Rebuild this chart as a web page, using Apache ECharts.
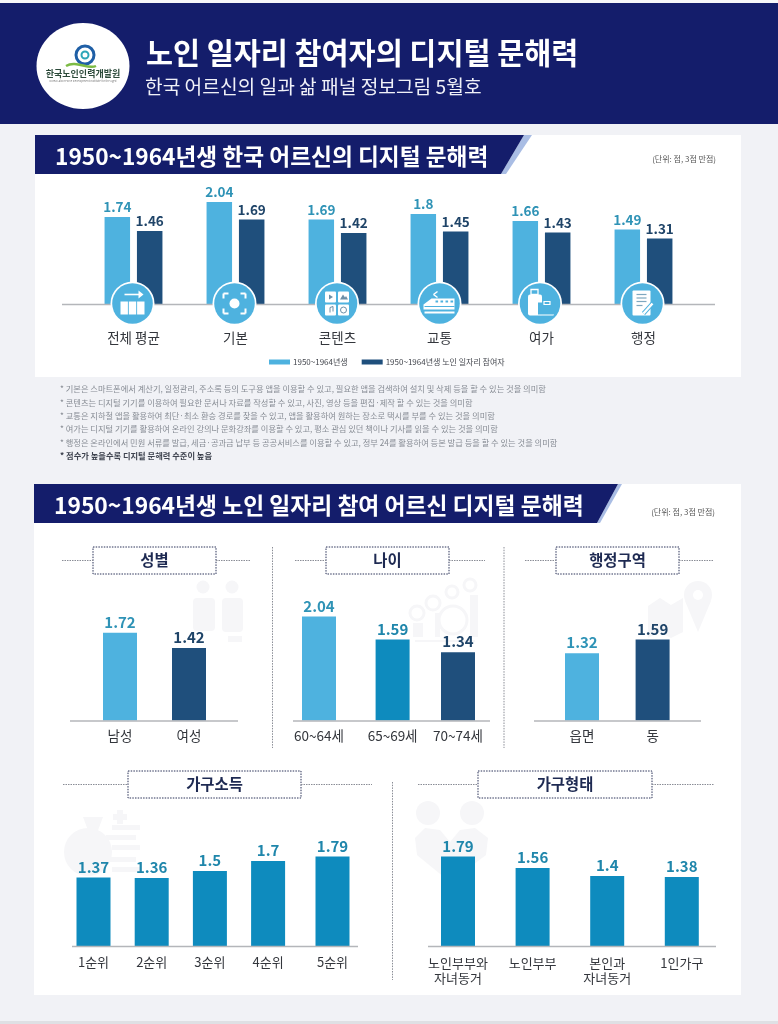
<!DOCTYPE html>
<html><head><meta charset="utf-8">
<style>html,body{margin:0;padding:0;background:#f1f2f6}#c{width:778px;height:1024px}</style>
<script src="https://cdn.jsdelivr.net/npm/echarts@6/dist/echarts.min.js"></script>
</head><body><div id="c"></div>
<script>
// ---- data ----
const overallCategories = ['전체 평균','기본','콘텐츠','교통','여가','행정'];
const allSeniors = [1.74,2.04,1.69,1.8,1.66,1.49];
const jobParticipants = [1.46,1.69,1.42,1.45,1.43,1.31];
const overallSeriesNames = ['1950~1964년생','1950~1964년생 노인 일자리 참여자'];
const genderCategories = ['남성','여성'];
const genderValues = [1.72,1.42];
const ageCategories = ['60~64세','65~69세','70~74세'];
const ageValues = [2.04,1.59,1.34];
const regionCategories = ['읍면','동'];
const regionValues = [1.32,1.59];
const incomeCategories = ['1순위','2순위','3순위','4순위','5순위'];
const incomeValues = [1.37,1.36,1.5,1.7,1.79];
const householdCategories = ['노인부부와\n자녀동거','노인부부','본인과\n자녀동거','1인가구'];
const householdValues = [1.79,1.56,1.4,1.38];
const notes = [
 '* 기본은 스마트폰에서 계산기, 일정관리, 주소록 등의 도구용 앱을 이용할 수 있고, 필요한 앱을 검색하여 설치 및 삭제 등을 할 수 있는 것을 의미함',
 '* 콘텐츠는 디지털 기기를 이용하여 필요한 문서나 자료를 작성할 수 있고, 사진, 영상 등을 편집·제작 할 수 있는 것을 의미함',
 '* 교통은 지하철 앱을 활용하여 최단·최소 환승 경로를 찾을 수 있고, 앱을 활용하여 원하는 장소로 택시를 부를 수 있는 것을 의미함',
 '* 여가는 디지털 기기를 활용하여 온라인 강의나 문화강좌를 이용할 수 있고, 평소 관심 있던 책이나 기사를 읽을 수 있는 것을 의미함',
 '* 행정은 온라인에서 민원 서류를 발급, 세금·공과금 납부 등 공공서비스를 이용할 수 있고, 정부 24를 활용하여 등본 발급 등을 할 수 있는 것을 의미함'];
const notesBold = '* 점수가 높을수록 디지털 문해력 수준이 높음';

// ---- style ----
const FONT = '"Noto Sans CJK KR","Noto Sans",sans-serif';
const NAVY='#141d6b', LIGHT='#4eb2df', DARK='#1f4f7c', TEAL='#0e8bbe', WM='#f6f6f8';
const LBL_L='#2f93b6', LBL_D='#1f4468', LBL_T='#1f86ab';
const g=[];  // graphic elements
const rect=(x,y,w,h,fill,z=1,r=0)=>g.push({type:'rect',shape:{x,y,width:w,height:h,r},style:{fill},z,silent:true});
const circ=(cx,cy,r,fill,z=1,extra={})=>g.push({type:'circle',shape:{cx,cy,r},style:Object.assign({fill},extra),z,silent:true});
const poly=(points,fill,z=1)=>g.push({type:'polygon',shape:{points},style:{fill},z,silent:true});
const line=(x1,y1,x2,y2,stroke,lineWidth=1,dash=null,z=1)=>g.push({type:'line',shape:{x1,y1,x2,y2},style:{stroke,lineWidth,lineDash:dash},z,silent:true});
const text=(x,y,t,size,fill,weight='normal',align='left',z=3)=>g.push({type:'text',x,y,style:{text:t,font:`${weight} ${size}px ${FONT}`,fill,align,verticalAlign:'middle'},z,silent:true});

// page blocks
rect(0,3,778,121,NAVY,-2);
rect(0,0,778,3,'#f7f7f9',-2);
rect(35,135,706,242,'#ffffff',-2);
rect(34,484,707,511,'#ffffff',-2);
rect(0,1021,778,3,'#dfe0e4',-2);

// logo
g.push({type:'ellipse',shape:{cx:83,cy:66,rx:46.5,ry:43},style:{fill:'#fff'},z:1,silent:true});
circ(85,55,9,'none',2,{stroke:'#1f5fa6',lineWidth:3});
circ(85,55,3.5,'none',2,{stroke:'#2ca6b8',lineWidth:2});
g.push({type:'bezierCurve',shape:{x1:66,y1:66,x2:96,y2:66,cpx1:76,cpy1:60,cpx2:88,cpy2:70},style:{stroke:'#7dbb45',lineWidth:2.5,fill:'none'},z:2,silent:true});
text(83,74,'한국노인인력개발원',9,'#2c4a3a','bold','center');
text(83,81,'Korea Labor Force Development Institute for the Aged',2.7,'#777','normal','center');
// header text
text(146,52.5,'노인 일자리 참여자의 디지털 문해력',29.4,'#fff','bold');
text(145,86.5,'한국 어르신의 일과 삶 패널 정보그림 5월호',19.2,'#f0f1f8','normal');

// section ribbons
function ribbon(x0,y0,y1,xTop,xBot,xStripeTop,xStripeBot){
  poly([[xTop,y0],[xStripeTop,y0],[xStripeBot,y1],[xBot,y1]],'#a9bde4',1);
  poly([[x0,y0],[xTop,y0],[xBot,y1],[x0,y1]],NAVY,1);
}
ribbon(35,135,174,524,501,532,506);
text(55,156.5,'1950~1964년생 한국 어르신의 디지털 문해력',22.7,'#fff','bold');
text(716,159,'(단위: 점, 3점 만점)',8,'#555','normal','right');
ribbon(34,484,523,618,597,622,600);
text(54,505,'1950~1964년생 노인 일자리 참여 어르신 디지털 문해력',22.8,'#fff','bold');
text(715,512,'(단위: 점, 3점 만점)',8,'#555','normal','right');

// notes
notes.forEach((n,i)=>text(60,389+i*13.4,n,8.25,'#878c94','normal'));
text(60,456,notesBold,8.25,'#3f4450','bold');

// sub-heading boxes
function subHead(t,bx0,bx1,by0,by1,lx0,lx1){
  const my=(by0+by1)/2;
  g.push({type:'rect',shape:{x:bx0,y:by0,width:bx1-bx0,height:by1-by0},style:{fill:'#fff',stroke:'#2b3358',lineWidth:1,lineDash:[1.5,1.2]},z:1,silent:true});
  line(lx0,my,bx0,my,'#8a8d96',1,[1.5,1]);
  line(bx1,my,lx1,my,'#8a8d96',1,[1.5,1]);
  text((bx0+bx1)/2,my,t,15.4,'#1e2a52','bold','center');
}
subHead('성별',93,216,547,574,62,250);
subHead('나이',326,449,547,574,295,485);
subHead('행정구역',556,679,547,574,525,713);
subHead('가구소득',128,301,771,798,63,372);
subHead('가구형태',478,652,771,798,418,714);
line(272.5,547,272.5,748,'#8a8d96',1,[1.5,1.2]);
line(504,547,504,748,'#8a8d96',1,[1.5,1.2]);
line(392.5,782,392.5,980,'#8a8d96',1,[1.5,1.2]);

// baselines
const BASE='#b4b6ba';
[[62,715,304.5],[70,238,721],[293,490,721],[534,701,721],[72,358,946.5],[428,716,946.5]].forEach(b=>line(b[0],b[2],b[1],b[2],BASE,1.6,null,5));

// watermark pictograms
circ(203,587,6.5,WM);rect(193,598,22,33,WM,1,4);
circ(232,587,6.5,WM);rect(222,598,21,34,WM,1,4);rect(228,636,14,6,WM);
[[470,585,6],[452,592,6],[433,603,7],[417,613,7]].forEach(c=>circ(c[0],c[1],c[2],'none',1,{stroke:WM,lineWidth:3}));
circ(453,620,14,'none',1,{stroke:WM,lineWidth:3});
rect(413,623,10,14,WM);rect(435,613,5,24,WM);rect(470,595,8,42,WM);rect(415,640,60,2,WM);
poly([[648,606],[660,598],[671,605],[683,598],[683,632],[671,638],[660,632],[648,638]],WM);
circ(698,595,14,WM);poly([[685,601],[711,601],[698,632]],WM);circ(698,595,5,'#fff');
circ(88,852,24,WM);poly([[83,817],[103,817],[97,833],[89,833]],WM);
rect(117,810,6,14,WM);rect(113,814,14,6,WM);
[825,835,845,857,867].forEach((y,i)=>rect(i%2?106:112,y,i%2?30:28,5,WM));
circ(428,813,12,WM);circ(472,813,12,WM);
poly([[415,838],[425,828],[440,830],[450,842],[460,830],[475,828],[488,838],[486,855],[450,882],[417,855]],WM);

// round icons
const IC=10;
function iconBase(cx,cy){circ(cx,cy,22,'#fff',IC-1);circ(cx,cy,20.3,LIGHT,IC);}
const W='#ffffff', Z=IC+1;
const wr=(x,y,w,h,r=0,f=W)=>rect(x,y,w,h,f,Z,r);
function iconAverage(cx,cy){iconBase(cx,cy);
  line(cx-8,cy-9,cx+9,cy-9,W,1.6,null,Z);poly([[cx+11,cy-9],[cx+6,cy-13],[cx+6,cy-5]],W,Z);
  wr(cx-12,cy-2,7.4,13);wr(cx-3.7,cy-2,7.4,13);wr(cx+4.6,cy-2,7.4,13);}
function iconBasic(cx,cy){iconBase(cx,cy);
  circ(cx,cy,5,W,Z);
  [[-1,-1],[1,-1],[-1,1],[1,1]].forEach(s=>{const x=cx+s[0]*11,y=cy+s[1]*10;
    line(x,y,x-s[0]*5,y,W,2,null,Z);line(x,y,x,y-s[1]*5,W,2,null,Z);});}
function iconContent(cx,cy){iconBase(cx,cy);
  [[-12,-12],[1,-12],[-12,1],[1,1]].forEach(o=>wr(cx+o[0],cy+o[1],11,11,1));
  const d='#6c8fa8';
  poly([[cx-8,cy-9],[cx-8,cy-4],[cx-4,cy-6.5]],d,Z+1);
  poly([[cx+3,cy-4],[cx+6,cy-9],[cx+8,cy-6],[cx+9,cy-7.5],[cx+11,cy-4]],d,Z+1);
  line(cx-7,cy+4,cx-7,cy+9,d,1,null,Z+1);line(cx-4,cy+3,cx-4,cy+8,d,1,null,Z+1);line(cx-7,cy+4,cx-4,cy+3,d,1,null,Z+1);
  circ(cx+6.5,cy+6.5,3,'none',Z+1,{stroke:d,lineWidth:1});}
function iconTrain(cx,cy){iconBase(cx,cy);
  line(cx-2,cy-12,cx-6,cy-9,W,1.5,null,Z);line(cx-6,cy-9,cx-2,cy-6,W,1.5,null,Z);
  poly([[cx-16,cy+1],[cx-8,cy-5],[cx+15,cy-5],[cx+15,cy+6],[cx-16,cy+6]],W,Z);
  [-4,1,6,11].forEach(o=>rect(cx+o,cy-3,2.6,2,LIGHT,Z+1));
  line(cx-15,cy+3,cx+15,cy+3,LIGHT,1,null,Z+1);
  wr(cx-15,cy+8,30,2);}
function iconLeisure(cx,cy){iconBase(cx,cy);
  g.push({type:'rect',shape:{x:cx-9,y:cy-14,width:7,height:5},style:{fill:'none',stroke:W,lineWidth:1.3},z:Z,silent:true});
  wr(cx-12,cy-9,14,21,2);
  rect(cx-2,cy-1,16,12,LIGHT,Z+1);wr(cx,cy+1,14,11,1);
  g.push({type:'rect',shape:{x:cx+4,y:cy-2,width:6,height:3},style:{fill:'none',stroke:W,lineWidth:1.2},z:Z+1,silent:true});
  line(cx,cy+6,cx+14,cy+6,LIGHT,1,null,Z+2);}
function iconAdmin(cx,cy){iconBase(cx,cy);
  wr(cx-10,cy-13,18,25,1);
  [-9,-5.5,-2].forEach(o=>line(cx-6,cy+o,cx+4,cy+o,'#7ea7bf',1.2,null,Z+1));
  line(cx-6,cy+2,cx,cy+2,'#7ea7bf',1.2,null,Z+1);
  line(cx+1,cy+10,cx+10,cy,LIGHT,4.2,null,Z+1);
  line(cx+1,cy+10,cx+10,cy,W,2.4,null,Z+2);}
iconAverage(132.5,303.5);iconBasic(234.5,303.5);iconContent(337,303.5);
iconTrain(439.5,303.5);iconLeisure(540,303.5);iconAdmin(642.5,303.5);

// ---- charts ----
const grids=[],xAxes=[],yAxes=[],series=[];
function addGrid(cats,left,step,baseline,pxPerUnit,labelSize,labelMargin,lineHeight){
  const i=grids.length, maxV=2.4;
  grids.push({left,width:step*cats.length,top:baseline-maxV*pxPerUnit,height:maxV*pxPerUnit,containLabel:false});
  xAxes.push({type:'category',gridIndex:i,data:cats,z:6,axisLine:{show:false},axisTick:{show:false},splitLine:{show:false},
    axisLabel:{interval:0,margin:labelMargin,fontFamily:FONT,fontSize:labelSize,color:'#33363c',lineHeight:lineHeight||labelSize+2}});
  yAxes.push({type:'value',gridIndex:i,min:0,max:maxV,show:false,splitLine:{show:false}});
  return i;
}
function item(v,c,lc){return {value:v,itemStyle:{color:c},label:{color:lc}};}
function addBarSeries(i,name,vals,colors,labelColors,width,fs,extra){
  series.push(Object.assign({type:'bar',name,xAxisIndex:i,yAxisIndex:i,barWidth:width,
    data:vals.map((v,k)=>item(v,colors[k],labelColors[k])),
    label:{show:true,position:'top',distance:3,fontFamily:FONT,fontWeight:'bold',fontSize:fs},
    animation:false},extra||{}));
}
// overall chart
const i0=addGrid(overallCategories,82.5,102,304,50,13.5,26);
addBarSeries(i0,overallSeriesNames[0],allSeniors,allSeniors.map(()=>LIGHT),allSeniors.map(()=>LBL_L),25.5,13.5,{barGap:'27%',itemStyle:{color:LIGHT}});
addBarSeries(i0,overallSeriesNames[1],jobParticipants,jobParticipants.map(()=>DARK),jobParticipants.map(()=>LBL_D),25.5,13.5,{barGap:'27%',itemStyle:{color:DARK}});
// gender
const iG=addGrid(genderCategories,120-34.5,69,720.5,51,13.5,8);
addBarSeries(iG,'성별',genderValues,[LIGHT,DARK],[LBL_L,LBL_D],34,15);
// age: three bars at slightly unequal spacing
[319,392.6,458].forEach((c,k)=>{
  const i=addGrid(ageCategories.slice(k,k+1),c-33,66,720.5,51,13.5,8);
  addBarSeries(i,'나이',ageValues.slice(k,k+1),[[LIGHT,TEAL,DARK][k]],[[LBL_L,LBL_T,LBL_D][k]],34,15);
});
// region
const iR=addGrid(regionCategories,582-35.3,70.6,720.5,51,13.5,8);
addBarSeries(iR,'행정구역',regionValues,[LIGHT,DARK],[LBL_L,LBL_D],34,15);
// income: first four evenly spaced, fifth a little further out
const iI=addGrid(incomeCategories.slice(0,4),93.4-29,58.2,946,50,13,9);
addBarSeries(iI,'가구소득',incomeValues.slice(0,4),[TEAL,TEAL,TEAL,TEAL],[LBL_T,LBL_T,LBL_T,LBL_T],34,15);
const iI2=addGrid(incomeCategories.slice(4),332.5-30,60,946,50,13,9);
addBarSeries(iI2,'가구소득',incomeValues.slice(4),[TEAL],[LBL_T],34,15);
// household
const iH=addGrid(householdCategories,458-37.3,74.6,946,50,13,9,15.5);
addBarSeries(iH,'가구형태',householdValues,householdValues.map(()=>TEAL),householdValues.map(()=>LBL_T),34,15);

const chart=echarts.init(document.getElementById('c'),null,{renderer:'canvas'});
chart.setOption({
  animation:false,
  backgroundColor:'#f1f2f6',
  textStyle:{fontFamily:FONT},
  legend:{data:overallSeriesNames.map(name=>({name,icon:'rect'})),left:269,top:358,padding:0,itemWidth:21,itemHeight:5,itemGap:14,
    textStyle:{fontFamily:FONT,fontSize:8,color:'#44474e',padding:[0,0,0,-2]},selectedMode:false},
  grid:grids,xAxis:xAxes,yAxis:yAxes,series,
  graphic:{elements:g}
});
</script></body></html>
